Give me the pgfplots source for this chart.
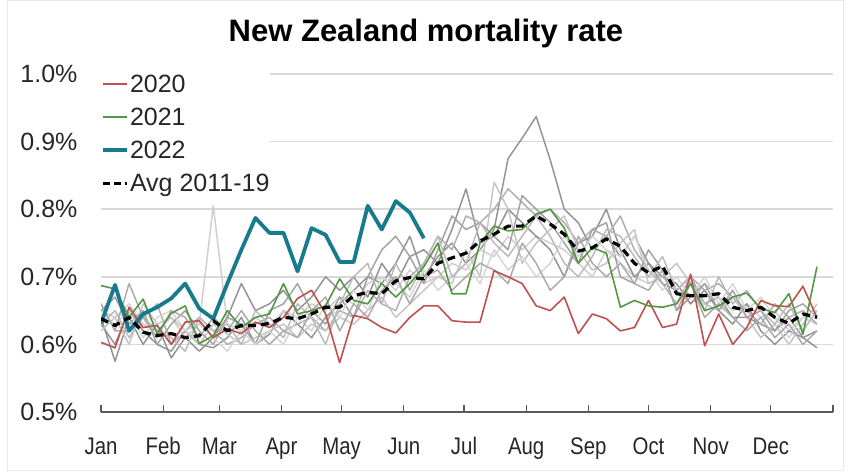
\documentclass[border=0pt]{standalone}
\usepackage{pgfplots}
\pgfplotsset{compat=1.18}
\usepackage{pgfplotstable}
\usepackage{fontspec}
\setmainfont{Liberation Sans}
\newfontfamily\narrowfont{Liberation Sans}[FakeStretch=0.85]

\definecolor{gridgray}{HTML}{D9D9D9}
\definecolor{axisgray}{HTML}{595959}
\definecolor{c2020}{RGB}{192,80,77}
\definecolor{c2021}{RGB}{84,150,70}
\definecolor{c2022}{RGB}{23,122,142}
\definecolor{ga}{HTML}{959595}
\definecolor{gb}{HTML}{CFCFCF}
\definecolor{gc}{HTML}{939393}
\definecolor{gd}{HTML}{B0B0B0}
\definecolor{ge}{HTML}{C6C6C6}
\definecolor{gf}{HTML}{A3A3A3}
\definecolor{gg}{HTML}{D6D6D6}
\definecolor{gh}{HTML}{BBBBBB}
\definecolor{gi}{HTML}{ABABAB}

% weekly values (%), week k plotted at day 7k
\pgfplotstableread[row sep=\\]{y\\0.630\\0.600\\0.650\\0.620\\0.600\\0.590\\0.620\\0.600\\0.595\\0.610\\0.640\\0.600\\0.615\\0.650\\0.630\\0.610\\0.640\\0.660\\0.680\\0.700\\0.690\\0.720\\0.760\\0.700\\0.730\\0.750\\0.720\\0.740\\0.770\\0.875\\0.905\\0.937\\0.873\\0.800\\0.780\\0.740\\0.760\\0.730\\0.760\\0.720\\0.690\\0.680\\0.700\\0.660\\0.670\\0.640\\0.640\\0.630\\0.620\\0.640\\0.610\\0.620\\}\gA
\pgfplotstableread[row sep=\\]{y\\0.650\\0.640\\0.660\\0.630\\0.620\\0.640\\0.610\\0.630\\0.805\\0.630\\0.620\\0.640\\0.625\\0.650\\0.640\\0.660\\0.650\\0.670\\0.660\\0.690\\0.700\\0.680\\0.710\\0.690\\0.700\\0.720\\0.710\\0.740\\0.730\\0.760\\0.740\\0.760\\0.750\\0.740\\0.720\\0.700\\0.740\\0.720\\0.700\\0.690\\0.700\\0.680\\0.660\\0.690\\0.670\\0.650\\0.660\\0.640\\0.650\\0.620\\0.640\\0.630\\}\gB
\pgfplotstableread[row sep=\\]{y\\0.640\\0.575\\0.640\\0.600\\0.630\\0.580\\0.610\\0.590\\0.610\\0.640\\0.690\\0.650\\0.660\\0.680\\0.650\\0.670\\0.700\\0.680\\0.700\\0.670\\0.720\\0.690\\0.730\\0.740\\0.720\\0.770\\0.830\\0.750\\0.760\\0.800\\0.780\\0.760\\0.740\\0.700\\0.750\\0.760\\0.800\\0.740\\0.700\\0.720\\0.700\\0.690\\0.660\\0.680\\0.650\\0.630\\0.660\\0.620\\0.600\\0.620\\0.610\\0.595\\}\gC
\pgfplotstableread[row sep=\\]{y\\0.660\\0.620\\0.620\\0.640\\0.660\\0.600\\0.620\\0.640\\0.620\\0.600\\0.610\\0.630\\0.640\\0.620\\0.630\\0.640\\0.620\\0.650\\0.640\\0.680\\0.660\\0.650\\0.700\\0.720\\0.760\\0.740\\0.790\\0.780\\0.800\\0.830\\0.810\\0.790\\0.800\\0.780\\0.750\\0.770\\0.760\\0.790\\0.740\\0.710\\0.690\\0.660\\0.700\\0.680\\0.690\\0.670\\0.650\\0.630\\0.660\\0.640\\0.650\\0.630\\}\gD
\pgfplotstableread[row sep=\\]{y\\0.620\\0.640\\0.600\\0.660\\0.630\\0.640\\0.620\\0.600\\0.630\\0.615\\0.600\\0.610\\0.620\\0.630\\0.610\\0.630\\0.620\\0.640\\0.630\\0.650\\0.670\\0.640\\0.660\\0.680\\0.700\\0.690\\0.740\\0.700\\0.840\\0.800\\0.720\\0.750\\0.770\\0.790\\0.740\\0.710\\0.720\\0.750\\0.770\\0.690\\0.700\\0.720\\0.690\\0.660\\0.650\\0.670\\0.640\\0.610\\0.630\\0.600\\0.630\\0.660\\}\gE
\pgfplotstableread[row sep=\\]{y\\0.650\\0.670\\0.630\\0.650\\0.600\\0.630\\0.650\\0.620\\0.600\\0.640\\0.630\\0.600\\0.650\\0.660\\0.690\\0.650\\0.630\\0.670\\0.640\\0.700\\0.740\\0.760\\0.730\\0.690\\0.740\\0.790\\0.770\\0.780\\0.760\\0.740\\0.820\\0.800\\0.780\\0.750\\0.720\\0.770\\0.780\\0.700\\0.690\\0.740\\0.710\\0.650\\0.670\\0.690\\0.650\\0.680\\0.640\\0.650\\0.620\\0.650\\0.660\\0.640\\}\gF
\pgfplotstableread[row sep=\\]{y\\0.640\\0.630\\0.650\\0.610\\0.640\\0.650\\0.620\\0.630\\0.610\\0.590\\0.620\\0.600\\0.620\\0.600\\0.640\\0.620\\0.660\\0.640\\0.680\\0.650\\0.700\\0.690\\0.670\\0.710\\0.680\\0.700\\0.720\\0.690\\0.740\\0.710\\0.730\\0.700\\0.720\\0.760\\0.730\\0.760\\0.740\\0.730\\0.760\\0.710\\0.680\\0.700\\0.670\\0.700\\0.660\\0.690\\0.650\\0.670\\0.640\\0.610\\0.640\\0.650\\}\gG
\pgfplotstableread[row sep=\\]{y\\0.630\\0.650\\0.610\\0.640\\0.620\\0.610\\0.590\\0.640\\0.620\\0.630\\0.600\\0.650\\0.630\\0.610\\0.660\\0.640\\0.600\\0.660\\0.700\\0.720\\0.660\\0.720\\0.680\\0.720\\0.760\\0.700\\0.720\\0.780\\0.750\\0.730\\0.760\\0.790\\0.760\\0.720\\0.700\\0.730\\0.770\\0.760\\0.730\\0.700\\0.730\\0.680\\0.700\\0.650\\0.700\\0.660\\0.680\\0.650\\0.630\\0.660\\0.620\\0.650\\}\gH
\pgfplotstableread[row sep=\\]{y\\0.660\\0.620\\0.690\\0.640\\0.610\\0.650\\0.640\\0.610\\0.640\\0.620\\0.650\\0.620\\0.600\\0.620\\0.610\\0.650\\0.670\\0.620\\0.660\\0.640\\0.680\\0.700\\0.660\\0.700\\0.710\\0.680\\0.700\\0.720\\0.710\\0.690\\0.750\\0.720\\0.680\\0.700\\0.760\\0.720\\0.700\\0.720\\0.690\\0.680\\0.710\\0.650\\0.690\\0.640\\0.660\\0.640\\0.620\\0.640\\0.610\\0.630\\0.600\\0.620\\}\gI
\pgfplotstableread[row sep=\\]{y\\0.603\\0.595\\0.655\\0.625\\0.628\\0.600\\0.633\\0.635\\0.610\\0.623\\0.616\\0.633\\0.625\\0.640\\0.668\\0.680\\0.645\\0.573\\0.643\\0.638\\0.625\\0.617\\0.640\\0.657\\0.657\\0.635\\0.633\\0.633\\0.709\\0.700\\0.690\\0.657\\0.650\\0.670\\0.616\\0.645\\0.638\\0.620\\0.625\\0.665\\0.625\\0.630\\0.704\\0.598\\0.645\\0.600\\0.625\\0.665\\0.657\\0.656\\0.686\\0.640\\}\tA
\pgfplotstableread[row sep=\\]{y\\0.687\\0.682\\0.640\\0.667\\0.616\\0.646\\0.657\\0.601\\0.613\\0.650\\0.625\\0.640\\0.645\\0.690\\0.645\\0.650\\0.657\\0.697\\0.665\\0.660\\0.690\\0.670\\0.690\\0.715\\0.750\\0.675\\0.675\\0.750\\0.775\\0.768\\0.770\\0.793\\0.800\\0.772\\0.720\\0.743\\0.735\\0.655\\0.665\\0.657\\0.655\\0.660\\0.690\\0.650\\0.657\\0.670\\0.676\\0.653\\0.647\\0.675\\0.615\\0.715\\}\tB
\pgfplotstableread[row sep=\\]{y\\0.631\\0.688\\0.620\\0.645\\0.655\\0.668\\0.690\\0.653\\0.638\\0.690\\0.740\\0.787\\0.765\\0.765\\0.708\\0.772\\0.762\\0.722\\0.722\\0.805\\0.770\\0.812\\0.795\\0.757\\}\tC
\pgfplotstableread[row sep=\\]{y\\0.638\\0.628\\0.640\\0.618\\0.613\\0.616\\0.610\\0.613\\0.635\\0.620\\0.628\\0.628\\0.631\\0.640\\0.638\\0.645\\0.655\\0.655\\0.672\\0.677\\0.675\\0.694\\0.699\\0.697\\0.720\\0.728\\0.735\\0.753\\0.763\\0.775\\0.775\\0.790\\0.778\\0.763\\0.738\\0.743\\0.756\\0.745\\0.720\\0.706\\0.716\\0.675\\0.672\\0.672\\0.675\\0.655\\0.650\\0.655\\0.640\\0.631\\0.645\\0.640\\}\tAvg

\begin{document}
\begin{tikzpicture}
\path[use as bounding box] (0pt,0pt) rectangle (854pt,472pt);
\draw[gray!18, line width=1pt] (7pt,2pt) rectangle (843pt,471pt);
\node[font=\bfseries\fontsize{31}{33}\selectfont] at (426pt,439pt) {New Zealand mortality rate};
\begin{axis}[
  scale only axis, width=732pt, height=338pt,
  at={(101pt,60pt)}, anchor=south west,
  xmin=0, xmax=365, ymin=0.5, ymax=1.0,
  axis x line*=bottom, axis y line*=left,
  x axis line style={draw=axisgray, line width=1.6pt, -},
  y axis line style={draw=none},
  xtick={0,31,59,90,120,151,181,212,243,273,304,334,365},
  xticklabels={Jan,Feb,Mar,Apr,May,Jun,Jul,Aug,Sep,Oct,Nov,Dec,},
  xtick align=inside, major tick length=7pt,
  xtick style={draw=axisgray, line width=1.3pt},
  ytick={0.5,0.6,0.7,0.8,0.9,1.0},
  yticklabels={0.5\%,0.6\%,0.7\%,0.8\%,0.9\%,1.0\%},
  ytick style={draw=none},
  ymajorgrids, grid style={draw=gridgray, line width=1.5pt},
  xticklabel style={font=\narrowfont\fontsize{24}{26}\selectfont, text=black!85, yshift=-22pt},
  yticklabel style={font=\fontsize{25}{27}\selectfont, text=black!85, xshift=-20pt},
  legend style={at={(0,1.004)}, anchor=north west, draw=none, fill=white,
    font=\fontsize{25}{27}\selectfont, text=black!85, inner xsep=0pt, inner ysep=2pt,
    row sep=14pt, cells={anchor=west}, nodes={inner xsep=1pt, inner ysep=0pt}},
  legend image code/.code={\draw[#1] (0pt,0pt) -- (24pt,0pt);},
  legend cell align=left,
  every axis plot/.append style={line join=round},
]
\addlegendimage{c2020, line width=2.2pt}
\addlegendentry{2020}
\addlegendimage{c2021, line width=2.2pt}
\addlegendentry{2021}
\addlegendimage{c2022, line width=3.8pt}
\addlegendentry{2022}
\addlegendimage{black, line width=3.2pt, dash pattern=on 7pt off 4pt}
\addlegendentry{Avg 2011-19}
\addplot[ga, line width=1.5pt, forget plot] table[x expr=\coordindex*7, y=y] {\gA};
\addplot[gb, line width=1.5pt, forget plot] table[x expr=\coordindex*7, y=y] {\gB};
\addplot[gc, line width=1.5pt, forget plot] table[x expr=\coordindex*7, y=y] {\gC};
\addplot[gd, line width=1.5pt, forget plot] table[x expr=\coordindex*7, y=y] {\gD};
\addplot[ge, line width=1.5pt, forget plot] table[x expr=\coordindex*7, y=y] {\gE};
\addplot[gf, line width=1.5pt, forget plot] table[x expr=\coordindex*7, y=y] {\gF};
\addplot[gg, line width=1.5pt, forget plot] table[x expr=\coordindex*7, y=y] {\gG};
\addplot[gh, line width=1.5pt, forget plot] table[x expr=\coordindex*7, y=y] {\gH};
\addplot[gi, line width=1.5pt, forget plot] table[x expr=\coordindex*7, y=y] {\gI};
\addplot[c2020, line width=1.6pt, forget plot] table[x expr=\coordindex*7, y=y] {\tA};
\addplot[c2021, line width=1.6pt, forget plot] table[x expr=\coordindex*7, y=y] {\tB};
\addplot[c2022, line width=3.8pt, forget plot] table[x expr=\coordindex*7, y=y] {\tC};
\addplot[black, line width=3.2pt, dash pattern=on 8pt off 5pt, forget plot] table[x expr=\coordindex*7, y=y] {\tAvg};
\end{axis}
\end{tikzpicture}
\end{document}
